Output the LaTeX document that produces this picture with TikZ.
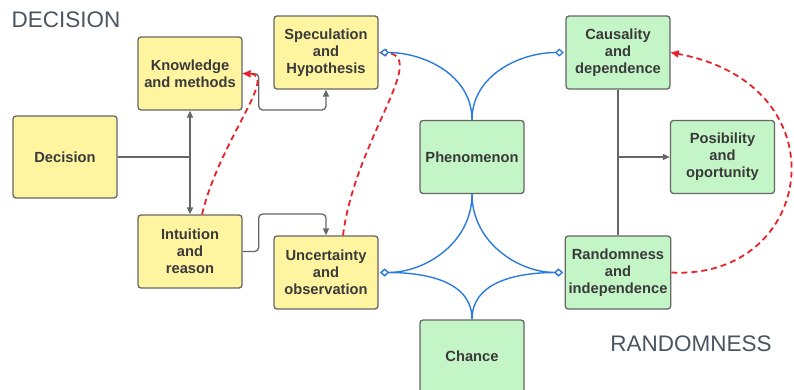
\documentclass[tikz,border=0pt]{standalone}
\usepackage{fontspec}
\setmainfont{Liberation Sans}
\usepackage{tikz}
\usetikzlibrary{arrows.meta,positioning,calc}
\definecolor{ink}{HTML}{3A3A3A}
\definecolor{frame}{HTML}{666666}
\definecolor{sand}{HTML}{FFF5A0}
\definecolor{mint}{HTML}{C4F5C6}
\definecolor{azure}{HTML}{2A7BDE}
\definecolor{alarm}{HTML}{E8222A}
\definecolor{caption}{HTML}{4A5560}

\begin{document}
\begin{tikzpicture}[x=1pt,y=-1pt,
  box/.style={draw=frame,line width=1.3pt,rounded corners=3pt,minimum width=104pt,
    minimum height=73pt,align=center,text=ink,font=\bfseries\fontsize{14.7}{17}\selectfont},
  decide/.style={box,fill=sand},
  chance/.style={box,fill=mint},
  link/.style={draw=frame,line width=1.3pt},
  arrow/.style={link,-{Triangle[length=7pt,width=6pt]}},
  tie/.style={draw=azure,line width=1.4pt,shorten >=1.5pt,
    -{Diamond[length=9pt,width=8pt,fill=white,line width=1.3pt]}},
  loopback/.style={draw=alarm,line width=1.8pt,dash pattern=on 6pt off 4pt,
    -{Triangle[length=8pt,width=7pt]}},
  heading/.style={text=caption,font=\fontsize{22.5}{24}\selectfont}
]
\clip (0,0) rectangle (794,389);
\node[heading] (decisionlabel) at (66,20) {DECISION};
\node[heading] (randomlabel) at (691,344) {RANDOMNESS};
\node[decide,minimum height=82pt] (dec) at (65,157) {Decision};
\node[decide] (know) at (190,73.5) {Knowledge\\and methods};
\node[decide] (spec) at (326,52.5) {Speculation\\and\\Hypothesis};
\node[decide] (intu) at (190,251.5) {Intuition\\and\\reason};
\node[decide] (unc) at (326,272.5) {Uncertainty\\and\\observation};
\node[chance] (phen) at (472,157) {Phenomenon};
\node[chance] (luck) at (472,356.5) {Chance};
\node[chance] (caus) at (618,52.5) {Causality\\and\\dependence};
\node[chance] (poss) at (722.5,157) {Posibility\\and\\oportunity};
\node[chance] (rand) at (618,272.5) {Randomness\\and\\independence};
\coordinate (split) at (know.south |- dec.east);
\coordinate (fork) at (caus.south |- poss.west);
\draw[link] (dec) -- (split);
\draw[arrow] (split) -- (know);
\draw[arrow] (split) -- (intu);
\draw[arrow,rounded corners=4pt] (know.east) -| ++(16,36.5) -| (spec.south);
\draw[arrow,rounded corners=4pt] (intu.east) -| ++(16,-37.5) -| (unc.north);
\draw[link] (caus) -- (rand);
\draw[arrow] (fork) -- (poss);
\draw[loopback] ([xshift=12pt]intu.north) .. controls (220,140) and (278,75) .. (know.east);
\draw[loopback] ([xshift=17pt]unc.north) .. controls (355,140) and (430,55) .. (spec.east);
\draw[loopback] (rand.east) .. controls (815,280) and (845,85) .. (caus.east);
\draw[tie] (phen.north) to[out=90,in=0] (spec.east);
\draw[tie] (phen.north) to[out=90,in=180] (caus.west);
\draw[tie] (phen.south) to[out=-90,in=0] (unc.east);
\draw[tie] (phen.south) to[out=-90,in=180] (rand.west);
\draw[tie] (luck.north) to[out=90,in=0] (unc.east);
\draw[tie] (luck.north) to[out=90,in=180] (rand.west);
\end{tikzpicture}
\end{document}
